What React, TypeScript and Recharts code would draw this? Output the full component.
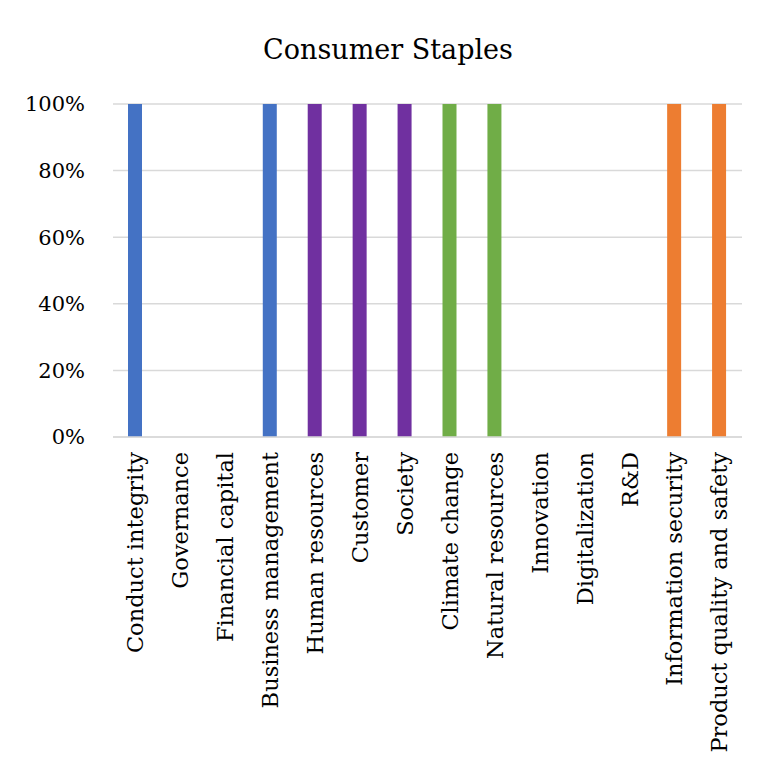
import { BarChart, Bar, XAxis, YAxis, CartesianGrid, Cell } from 'recharts'

const categories = [
  'Conduct integrity',
  'Governance',
  'Financial capital',
  'Business management',
  'Human resources',
  'Customer',
  'Society',
  'Climate change',
  'Natural resources',
  'Innovation',
  'Digitalization',
  'R&D',
  'Information security',
  'Product quality and safety'
]

const shares = [1, 0, 0, 1, 1, 1, 1, 1, 1, 0, 0, 0, 1, 1]

const barColors = [
  '#4472C4', '#4472C4', '#4472C4', '#4472C4',
  '#7030A0', '#7030A0', '#7030A0',
  '#70AD47', '#70AD47',
  '#ED7D31', '#ED7D31', '#ED7D31', '#ED7D31', '#ED7D31'
]

const yTicks = [0, 0.2, 0.4, 0.6, 0.8, 1]

const FONT = '"DejaVu Serif", serif'

// rotated category label, reads bottom to top
function CategoryTick(props: any) {
  const { x, y, payload } = props
  return (
    <g transform={`translate(${x},${y})`}>
      <text
        transform="rotate(-90)"
        textAnchor="end"
        dy="0.35em"
        fill="#000"
        fontSize={22.5}
        fontFamily={FONT}
      >
        {payload.value}
      </text>
    </g>
  )
}

export default function App() {
  const data = categories.map((name, i) => ({ name, value: shares[i] }))

  return (
    <div style={{ position: 'absolute', left: 0, top: 0, width: 759, height: 767, background: '#fff' }}>
      <div
        style={{
          position: 'absolute',
          left: 0,
          width: 776,
          top: 35,
          textAlign: 'center',
          fontFamily: FONT,
          fontSize: 27,
          lineHeight: '30px',
          color: '#000'
        }}
      >
        Consumer Staples
      </div>
      <BarChart
        width={759}
        height={767}
        data={data}
        margin={{ top: 104, right: 17, left: 0, bottom: 0 }}
        barCategoryGap={0}
      >
        <CartesianGrid vertical={false} stroke="#d9d9d9" strokeWidth={1.5} />
        <XAxis
          dataKey="name"
          interval={0}
          height={330}
          tickLine={false}
          axisLine={{ stroke: '#d9d9d9', strokeWidth: 1.5 }}
          tickSize={0}
          tickMargin={15}
          tick={<CategoryTick />}
        />
        <YAxis
          domain={[0, 1]}
          ticks={yTicks}
          width={113}
          axisLine={false}
          tickLine={false}
          tickSize={0}
          tickMargin={28}
          tickFormatter={(v: number) => `${Math.round(v * 100)}%`}
          tick={{ fill: '#000', fontSize: 21, fontFamily: FONT }}
        />
        <Bar dataKey="value" barSize={14} isAnimationActive={false}>
          {data.map((d, i) => (
            <Cell key={d.name} fill={barColors[i]} />
          ))}
        </Bar>
      </BarChart>
    </div>
  )
}
